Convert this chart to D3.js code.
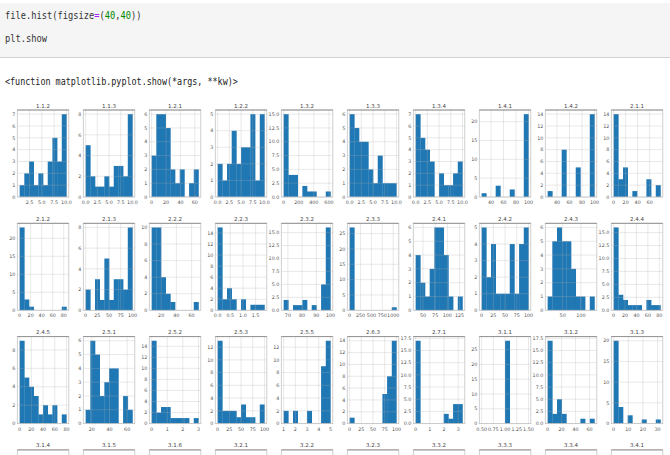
<!DOCTYPE html>
<html lang="en">

<head>
    <meta charset="UTF-8" />
    <title>file.hist grid</title>
    <script src="https://d3js.org/d3.v7.js"></script>
    <style>
        body { margin: 0; background: #fff; }
    </style>
</head>

<body>
    <svg id="chart"></svg>
</body>

<script>
    // panel titles (columns of the frame), in the order pandas draws them
    var names = ["1.1.2", "1.1.3", "1.2.1", "1.2.2", "1.3.2", "1.3.3", "1.3.4", "1.4.1", "1.4.2", "2.1.1",
        "2.1.2", "2.1.3", "2.2.2", "2.2.3", "2.3.2", "2.3.3", "2.4.1", "2.4.2", "2.4.3", "2.4.4",
        "2.4.5", "2.5.1", "2.5.2", "2.5.3", "2.5.5", "2.6.3", "2.7.1", "3.1.1", "3.1.2", "3.1.3"];
    // fourth row is cut off at the bottom of the screenshot
    var cutNames = ["3.1.4", "3.1.5", "3.1.6", "3.2.1", "3.2.2", "3.2.3", "3.3.2", "3.3.3", "3.3.4", "3.4.1"];

    // counts of the 10 bins of every histogram
    var counts = [
        [1, 2, 3, 1, 2, 1, 3, 5, 3, 7],
        [5, 2, 1, 1, 2, 1, 3, 3, 2, 8],
        [3, 6, 6, 5, 2, 1, 2, 0, 1, 2],
        [2, 1, 2, 4, 2, 3, 3, 5, 1, 5],
        [15, 4, 4, 0, 2, 1, 1, 0, 0, 1],
        [6, 5, 4, 4, 2, 1, 3, 1, 1, 1],
        [7, 5, 4, 3, 0, 2, 1, 1, 2, 3],
        [1, 0, 0, 3, 0, 0, 2, 0, 0, 22],
        [1, 0, 0, 8, 0, 0, 5, 0, 0, 14],
        [14, 3, 5, 0, 1, 0, 0, 3, 0, 2],
        [23, 3, 1, 0, 0, 0, 0, 0, 0, 1],
        [2, 0, 3, 1, 5, 1, 3, 3, 2, 8],
        [10, 10, 4, 2, 1, 0, 0, 0, 0, 1],
        [15, 2, 4, 2, 0, 2, 0, 1, 1, 1],
        [2, 0, 1, 1, 2, 0, 1, 0, 5, 16],
        [27, 0, 0, 0, 0, 0, 0, 0, 0, 1],
        [4, 2, 1, 3, 6, 6, 4, 1, 0, 1],
        [5, 2, 4, 1, 1, 1, 4, 1, 4, 5],
        [1, 5, 6, 5, 5, 3, 1, 1, 0, 1],
        [16, 3, 2, 1, 1, 1, 0, 2, 1, 1],
        [9, 5, 4, 3, 1, 2, 1, 2, 0, 1],
        [1, 6, 5, 2, 3, 4, 4, 0, 2, 1],
        [15, 2, 3, 3, 1, 1, 1, 1, 0, 1],
        [13, 2, 2, 2, 1, 3, 1, 1, 0, 3],
        [2, 0, 2, 0, 0, 2, 0, 0, 9, 13],
        [1, 0, 0, 0, 0, 0, 0, 5, 8, 14],
        [17, 0, 0, 0, 0, 0, 2, 1, 4, 4],
        [0, 0, 0, 0, 0, 28, 0, 0, 0, 0],
        [17, 2, 5, 2, 0, 0, 0, 1, 0, 1],
        [20, 4, 0, 2, 0, 0, 1, 0, 0, 1]
    ];

    // min / max of each column (bin edges run between them)
    var ranges = [
        [0.5, 10], [0, 10], [0, 65], [0, 10], [0, 620], [0, 10], [0, 10], [25, 100], [25, 100], [0, 78],
        [0, 85], [0, 100], [7.5, 69], [0, 1.85], [67, 100], [0, 1075], [35, 131], [0, 100], [9, 137], [0, 82],
        [0, 80], [13, 66], [0, 3], [0, 100], [1, 5], [0, 100], [0, 3.3], [0.5, 1.5], [0, 67], [0, 32]
    ];

    var xTicks = [
        [2.5, 5, 7.5, 10], [0, 2.5, 5, 7.5, 10], [0, 20, 40, 60], [0, 2.5, 5, 7.5, 10], [0, 200, 400, 600],
        [0, 2.5, 5, 7.5, 10], [0, 2.5, 5, 7.5, 10], [40, 60, 80, 100], [40, 60, 80, 100], [0, 20, 40, 60],
        [0, 20, 40, 60, 80], [0, 25, 50, 75, 100], [20, 40, 60], [0, 0.5, 1, 1.5], [70, 80, 90, 100],
        [0, 250, 500, 750, 1000], [50, 75, 100, 125], [0, 25, 50, 75, 100], [50, 100], [0, 20, 40, 60, 80],
        [0, 20, 40, 60, 80], [20, 40, 60], [0, 1, 2, 3], [0, 25, 50, 75, 100], [1, 2, 3, 4, 5],
        [0, 25, 50, 75, 100], [0, 1, 2, 3], [0.5, 0.75, 1, 1.25, 1.5], [0, 20, 40, 60], [0, 10, 20, 30]
    ];

    var yTicks = [
        [0, 1, 2, 3, 4, 5, 6, 7], [0, 2, 4, 6, 8], [0, 1, 2, 3, 4, 5, 6], [0, 1, 2, 3, 4, 5],
        [0, 2.5, 5, 7.5, 10, 12.5, 15], [0, 1, 2, 3, 4, 5, 6], [0, 1, 2, 3, 4, 5, 6, 7], [0, 5, 10, 15, 20],
        [0, 2, 4, 6, 8, 10, 12, 14], [0, 2, 4, 6, 8, 10, 12, 14],
        [0, 5, 10, 15, 20], [0, 2, 4, 6, 8], [0, 2, 4, 6, 8, 10], [0, 2, 4, 6, 8, 10, 12, 14],
        [0, 2.5, 5, 7.5, 10, 12.5, 15], [0, 5, 10, 15, 20, 25], [0, 1, 2, 3, 4, 5, 6], [0, 1, 2, 3, 4, 5],
        [0, 1, 2, 3, 4, 5, 6], [0, 2.5, 5, 7.5, 10, 12.5, 15],
        [0, 2, 4, 6, 8], [0, 1, 2, 3, 4, 5, 6], [0, 2, 4, 6, 8, 10, 12, 14], [0, 2, 4, 6, 8, 10, 12],
        [0, 2, 4, 6, 8, 10, 12], [0, 2, 4, 6, 8, 10, 12, 14], [0, 2.5, 5, 7.5, 10, 12.5, 15, 17.5],
        [0, 5, 10, 15, 20, 25], [0, 2.5, 5, 7.5, 10, 12.5, 15, 17.5], [0, 5, 10, 15, 20]
    ];

    var codeLines = [
        [["file.hist(figsize", "#333"], ["=", "#a2f"], ["(", "#333"], ["40", "#080"], [",", "#333"], ["40", "#080"], ["))", "#333"]],
        [["plt.show", "#333"]]
    ];
    var outputLine = "<function matplotlib.pyplot.show(*args, **kw)>";

    var W = 670, H = 455;
    var svg = d3.select("#chart").attr("width", W).attr("height", H);
    svg.append("rect").attr("width", W).attr("height", H).attr("fill", "#fff");

    // ---- notebook cell ----
    var mono = "'DejaVu Sans Mono', 'Liberation Mono', monospace";
    svg.append("rect").attr("x", 0).attr("y", 3).attr("width", W).attr("height", 54)
        .attr("fill", "#f5f5f5");
    svg.append("line").attr("x1", 0).attr("x2", W).attr("y1", 57.5).attr("y2", 57.5)
        .attr("stroke", "#d2d2d2");

    // narrow notebook font: small mono size, stretched vertically
    function monoText(parts, x0, y, cw) {
        var t = svg.append("text")
            .attr("transform", "translate(" + x0 + "," + y + ") scale(1,1.3)")
            .attr("font-family", mono).attr("font-size", cw / 0.602);
        parts.forEach(function (p) {
            t.append("tspan").attr("fill", p[1]).text(p[0]);
        });
    }
    codeLines.forEach(function (l, i) { monoText(l, 5, 19 + i * 23, 5.25); });
    monoText([[outputLine, "#222"]], 5, 85, 5.07);

    // ---- histogram grid ----
    var colX = 17.3, colStep = 66, panelW = 51.5;
    var rowY = 110, rowStep = 113.3, panelH = 87;
    var blue = "#1f77b4";

    function fmt(ticks) {
        var dec = d3.max(ticks, function (t) {
            var s = String(t); return s.indexOf(".") < 0 ? 0 : s.length - s.indexOf(".") - 1;
        });
        if (ticks.some(function (t) { return t % 1 !== 0; })) dec = Math.max(dec, 1);
        return function (t) { return t.toFixed(dec); };
    }

    names.forEach(function (name, i) {
        var col = i % 10, row = Math.floor(i / 10);
        var x0 = colX + col * colStep, y0 = rowY + row * rowStep;
        var lo = ranges[i][0], hi = ranges[i][1], pad = (hi - lo) * 0.05;
        var c = counts[i];
        var edges = d3.range(11).map(function (k) { return lo + (hi - lo) * k / 10; });

        var x = d3.scaleLinear().domain([lo - pad, hi + pad]).range([0, panelW]);
        var y = d3.scaleLinear().domain([0, d3.max(c) * 1.05]).range([panelH, 0]);

        var g = svg.append("g").attr("transform", "translate(" + x0 + "," + y0 + ")");

        // bars
        g.selectAll("rect.bar").data(c).enter().append("rect")
            .attr("class", "bar")
            .attr("x", function (d, k) { return x(edges[k]); })
            .attr("width", function (d, k) { return x(edges[k + 1]) - x(edges[k]) + 0.3; })
            .attr("y", function (d) { return y(d); })
            .attr("height", function (d) { return panelH - y(d); })
            .attr("fill", blue);

        // grid drawn over the bars, as in the notebook output
        var xt = xTicks[i], yt = yTicks[i];
        var fx = fmt(xt), fy = fmt(yt);
        g.selectAll("line.gx").data(xt).enter().append("line")
            .attr("x1", function (d) { return x(d); }).attr("x2", function (d) { return x(d); })
            .attr("y1", 0).attr("y2", panelH)
            .attr("stroke", "#b0b0b0").attr("stroke-opacity", 0.4).attr("stroke-width", 0.7);
        g.selectAll("line.gy").data(yt).enter().append("line")
            .attr("y1", function (d) { return y(d); }).attr("y2", function (d) { return y(d); })
            .attr("x1", 0).attr("x2", panelW)
            .attr("stroke", "#b0b0b0").attr("stroke-opacity", 0.4).attr("stroke-width", 0.7);

        // frame
        g.append("rect").attr("width", panelW).attr("height", panelH)
            .attr("fill", "none").attr("stroke", "#c4c4c4").attr("stroke-width", 0.8);
        g.append("line").attr("x1", 0).attr("x2", panelW).attr("y1", 0).attr("y2", 0)
            .attr("stroke", "#8a8a8a").attr("stroke-width", 0.9);

        // tick labels
        g.selectAll("text.xl").data(xt).enter().append("text")
            .attr("x", function (d) { return x(d); }).attr("y", panelH + 7)
            .attr("text-anchor", "middle").attr("font-family", "DejaVu Sans").attr("font-size", 4.8)
            .attr("fill", "#555").text(fx);
        g.selectAll("text.yl").data(yt).enter().append("text")
            .attr("x", -2).attr("y", function (d) { return y(d) + 1.7; })
            .attr("text-anchor", "end").attr("font-family", "DejaVu Sans").attr("font-size", 4.8)
            .attr("fill", "#555").text(fy);

        g.append("text").attr("x", panelW / 2).attr("y", -2.5)
            .attr("text-anchor", "middle").attr("font-family", "DejaVu Sans").attr("font-size", 5.5)
            .attr("fill", "#444").text(name);
    });

    // last row: only the titles and the top of the frames are in view
    cutNames.forEach(function (name, col) {
        var x0 = colX + col * colStep, y0 = rowY + 3 * rowStep;
        var g = svg.append("g").attr("transform", "translate(" + x0 + "," + y0 + ")");
        g.append("rect").attr("width", panelW).attr("height", panelH)
            .attr("fill", "none").attr("stroke", "#c4c4c4").attr("stroke-width", 0.8);
        g.append("line").attr("x1", 0).attr("x2", panelW).attr("y1", 0).attr("y2", 0)
            .attr("stroke", "#8a8a8a").attr("stroke-width", 0.9);
        g.append("text").attr("x", panelW / 2).attr("y", -2.5)
            .attr("text-anchor", "middle").attr("font-family", "DejaVu Sans").attr("font-size", 5.5)
            .attr("fill", "#444").text(name);
    });
</script>

</html>
